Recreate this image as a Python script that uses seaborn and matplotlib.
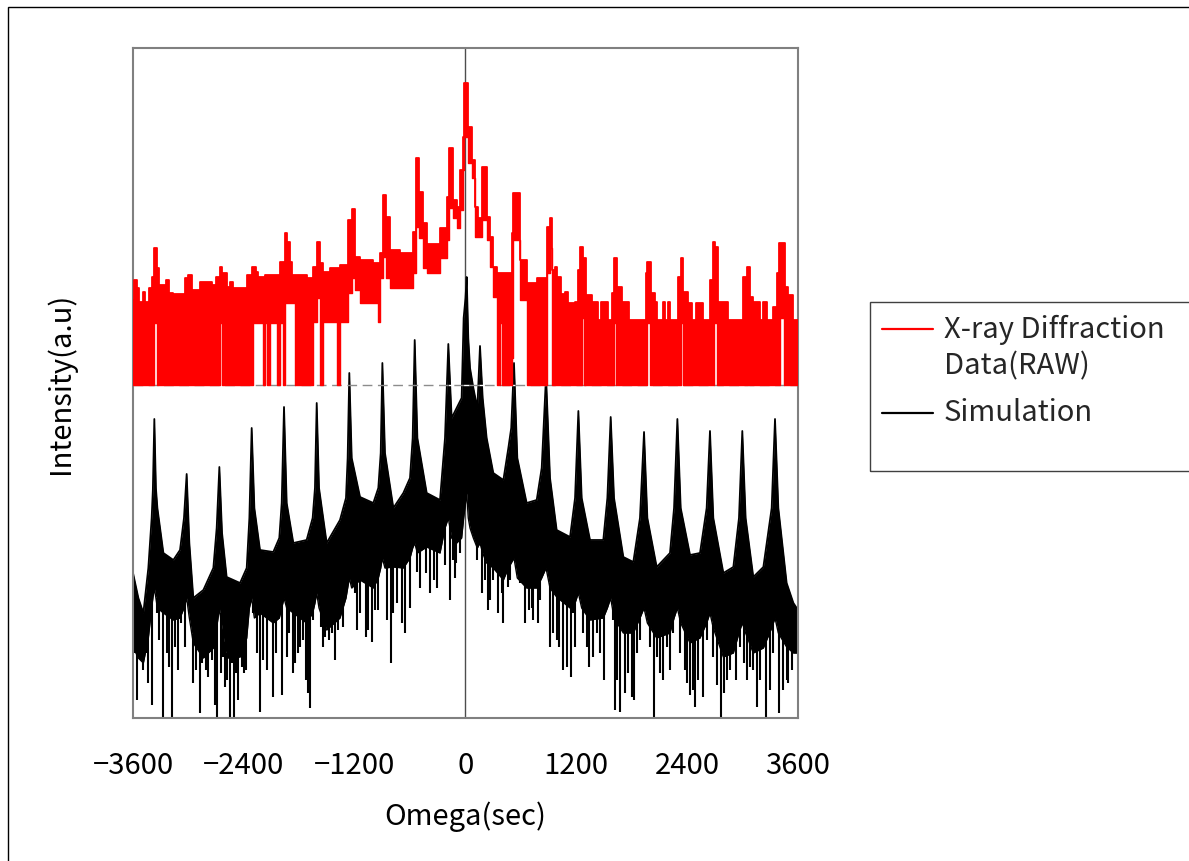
import numpy as np
import pandas as pd
import matplotlib
matplotlib.use("Agg")
import matplotlib.pyplot as plt
import seaborn as sns
from matplotlib.lines import Line2D
from matplotlib.patches import Rectangle

# ---------------- data (intensity in a.u.) ----------------
x_ticks = [-3600, -2400, -1200, 0, 1200, 2400, 3600]
x_tick_labels = ["\u22123600", "\u22122400", "\u22121200", "0", "1200", "2400", "3600"]
series_labels = ["X-ray Diffraction\nData(RAW)", "Simulation"]
x_title = "Omega(sec)"
y_title = "Intensity(a.u)"
baseline = 333

# X-ray diffraction raw data (stepped): segment start, upper level, lower level
red_omega = [-3600, -3589, -3553, -3531, -3495, -3470, -3423, -3397, -3372, -3343,
             -3336, -3314, -3242, -3206, -3163, -3037, -3000, -2964, -2874, -2748,
             -2701, -2658, -2636, -2585, -2549, -2513, -2369, -2315, -2304, -2268,
             -2243, -2188, -2170, -2145, -2116, -2044, -2008, -1979, -1954, -1929,
             -1900, -1882, -1846, -1719, -1654, -1611, -1575, -1539, -1467, -1394,
             -1358, -1269, -1225, -1196, -1142, -998, -944, -926, -898, -860,
             -817, -709, -565, -535, -500, -457, -421, -276, -204, -175,
             -140, -96, -60, -23, -16, 31, 67, 103, 139, 175,
             229, 265, 301, 337, 374, 395, 500, 518, 590, 670,
             770, 879, 915, 933, 969, 987, 1034, 1077, 1113, 1186,
             1214, 1240, 1258, 1276, 1283, 1301, 1366, 1438, 1467, 1539,
             1590, 1611, 1630, 1637, 1691, 1770, 1951, 1970, 1998, 2008,
             2052, 2070, 2142, 2160, 2196, 2214, 2304, 2330, 2351, 2358,
             2405, 2449, 2492, 2568, 2647, 2676, 2694, 2701, 2719, 2737,
             2846, 3008, 3044, 3055, 3073, 3080, 3116, 3189, 3225, 3261,
             3333, 3369, 3394, 3401, 3452, 3459, 3495, 3549, 3600]
red_upper = [418, 438, 430, 416, 426, 416, 430, 441, 470, 450,
             450, 433, 438, 425, 424, 440, 443, 428, 436, 433,
             441, 451, 445, 431, 436, 430, 443, 451, 451, 446,
             441, 441, 443, 443, 443, 443, 456, 456, 485, 476,
             456, 443, 443, 440, 451, 476, 455, 446, 450, 450,
             453, 498, 509, 461, 458, 455, 455, 465, 523, 501,
             468, 465, 486, 560, 526, 495, 474, 490, 521, 570,
             518, 511, 548, 581, 635, 591, 558, 511, 500, 551,
             501, 481, 451, 445, 445, 445, 485, 525, 458, 435,
             440, 491, 500, 448, 451, 441, 424, 426, 415, 416,
             448, 471, 471, 460, 460, 423, 416, 398, 416, 398,
             425, 460, 460, 431, 416, 398, 445, 456, 456, 425,
             416, 398, 416, 398, 416, 398, 441, 460, 460, 426,
             415, 398, 415, 398, 438, 476, 476, 471, 471, 416,
             398, 441, 451, 451, 451, 421, 416, 398, 416, 398,
             411, 445, 475, 475, 475, 431, 423, 398, 398]
red_lower = [333, 333, 333, 333, 333, 333, 333, 333, 395, 395,
             333, 333, 333, 333, 333, 333, 333, 333, 333, 333,
             333, 395, 333, 333, 333, 333, 333, 333, 395, 395,
             395, 333, 395, 333, 395, 333, 395, 333, 415, 415,
             415, 415, 333, 333, 396, 420, 333, 396, 396, 333,
             396, 425, 440, 428, 415, 415, 396, 440, 461, 440,
             430, 430, 445, 491, 480, 450, 445, 460, 478, 510,
             500, 490, 508, 548, 581, 555, 540, 481, 481, 498,
             478, 451, 421, 333, 395, 333, 360, 478, 418, 333,
             333, 445, 470, 333, 333, 333, 333, 333, 333, 333,
             333, 333, 400, 400, 333, 333, 333, 333, 333, 333,
             333, 395, 333, 333, 333, 333, 333, 395, 333, 333,
             333, 333, 333, 333, 333, 333, 333, 395, 333, 333,
             333, 333, 333, 333, 333, 333, 395, 395, 333, 333,
             333, 333, 333, 395, 333, 333, 333, 333, 333, 333,
             333, 333, 333, 400, 333, 333, 333, 333, 333]

# Simulation: omega, upper edge and lower edge of the dense band
sim_omega = [-3600, -3542, -3488, -3434, -3398, -3385, -3369, -3352, -3336, -3271,
             -3163, -3091, -3048, -3019, -2990, -2947, -2838, -2730, -2694, -2665,
             -2636, -2586, -2441, -2369, -2340, -2315, -2286, -2225, -2081, -2016,
             -1990, -1965, -1936, -1864, -1720, -1655, -1630, -1611, -1586, -1503,
             -1359, -1294, -1276, -1258, -1232, -1142, -998, -944, -918, -900,
             -872, -781, -673, -601, -572, -550, -521, -420, -276, -222,
             -186, -150, -96, -42, -20, 0, 13, 30, 49, 85, 128, 157,
             186, 229, 301, 410, 464, 495, 525, 561, 662, 771,
             825, 872, 915, 987, 1132, 1186, 1222, 1258, 1348, 1492,
             1536, 1572, 1608, 1709, 1817, 1889, 1933, 1969, 2070, 2214,
             2258, 2294, 2330, 2431, 2539, 2611, 2647, 2683, 2792, 2900,
             2961, 2997, 3033, 3116, 3225, 3315, 3351, 3387, 3477, 3550,
             3600]
sim_upper = [145, 120, 105, 150, 200, 228, 299, 230, 210, 165,
             158, 168, 200, 244, 175, 120, 128, 150, 190, 251,
             185, 141, 135, 150, 200, 290, 210, 168, 166, 180,
             215, 311, 215, 175, 178, 200, 230, 315, 230, 175,
             198, 220, 260, 345, 260, 221, 215, 230, 265, 355,
             265, 210, 225, 240, 280, 378, 280, 225, 218, 280,
             374, 300, 310, 320, 400, 420, 441, 380, 350, 330, 310, 372,
             320, 280, 245, 238, 270, 290, 355, 260, 215, 218,
             250, 342, 240, 188, 181, 220, 307, 220, 178, 178,
             220, 301, 220, 161, 156, 200, 286, 200, 151, 165,
             210, 299, 210, 163, 165, 210, 287, 200, 145, 151,
             200, 287, 200, 141, 151, 210, 299, 210, 135, 115,
             108]
sim_lower = [71, 60, 55, 80, 110, 120, 130, 120, 110, 105,
             98, 100, 110, 120, 100, 75, 60, 70, 90, 110,
             90, 60, 61, 80, 110, 120, 100, 105, 95, 100,
             110, 120, 110, 105, 95, 105, 115, 125, 110, 88,
             100, 120, 130, 140, 130, 138, 130, 140, 150, 160,
             150, 151, 150, 160, 170, 175, 165, 171, 165, 190,
             200, 180, 175, 180, 200, 215, 225, 200, 190, 180, 170, 175,
             165, 155, 150, 138, 150, 155, 160, 140, 130, 130,
             140, 150, 130, 121, 110, 115, 125, 110, 98, 100,
             110, 120, 100, 85, 85, 100, 110, 95, 80, 85,
             100, 110, 95, 75, 80, 95, 105, 90, 61, 65,
             85, 95, 85, 65, 70, 90, 100, 85, 71, 65,
             65]

# Simulation: deep downward excursions (omega, lowest value)
dip_omega = [-3560, -3488, -3434, -3391, -3271, -3207, -3181, -3109,
             -2954, -2875, -2810, -2712, -2694, -2604, -2550, -2506, -2460, -2377,
             -2225, -2153, -2088, -1990, -1864, -1792, -1709, -1684,
             -1546, -1474, -1413, -1171, -1081, -1016, -944, -807, -738, -655,
             -529, -428, -384, -341, -222, -168, -103, -60,
             175, 247, 301, 356, 410, 464, 644, 691, 734, 781,
             915, 987, 1059, 1142, 1186, 1276, 1341, 1384, 1500,
             1619, 1673, 1727, 1828, 1889, 2044, 2106, 2214,
             2395, 2431, 2485, 2575, 2720, 2766, 2828, 2929,
             3015, 3080, 3152, 3254, 3297, 3398, 3441, 3495, 3568]
dip_low = [18, 48, 35, 13, 0, 51, 0, 48,
           35, 5, 48, 13, 0, 31, 0, 0, 18, 48,
           6, 48, 21, 23, 45, 71, 25, 10,
           71, 78, 58, 88, 81, 76, 108, 55, 115, 85,
           146, 145, 125, 138, 153, 118, 155, 165,
           125, 108, 138, 105, 95, 131, 95, 108, 98, 95,
           71, 78, 48, 41, 71, 85, 51, 61, 38,
           8, 6, 25, 18, 78, 0, 45, 48,
           35, 23, 11, 21, 33, 0, 38, 38,
           55, 51, 11, 0, 28, 5, 28, 35, 71]

# Simulation: shallower downward excursions (omega, lowest value)
dip2_omega = [-3578, -3517, -3459, -3344, -3315, -3235, -3145, -3084, -3037,
              -2918, -2856, -2784, -2748, -2651, -2622, -2579, -2532, -2485,
              -2423, -2398, -2297, -2254, -2189, -2052, -1936, -1907, -1846,
              -1810, -1763, -1727, -1648, -1565, -1521, -1449, -1377, -1323,
              -1196, -1142, -1052, -980, -853, -781, -691, -601, -493, -312,
              -114, -132, 121, 211, 265, 392, 482, 590, 716, 807,
              951, 1016, 1095, 1168, 1312, 1420, 1456, 1601, 1637, 1763,
              1799, 1853, 1998, 2070, 2142, 2178, 2250, 2322, 2377, 2460,
              2521, 2611, 2683, 2802, 2864, 2972, 3044, 3116, 3189, 3333,
              3477, 3532, 3586]
dip2_low = [65, 61, 65, 105, 78, 65, 71, 95, 71,
            48, 55, 41, 58, 45, 61, 38, 55, 45,
            51, 45, 105, 65, 58, 65, 61, 85, 55,
            65, 78, 38, 98, 91, 81, 85, 88, 91,
            125, 105, 88, 108, 98, 105, 95, 110, 130, 130,
            140, 158, 158, 138, 118, 125, 138, 135, 110, 118,
            85, 71, 51, 105, 71, 85, 65, 98, 38, 45,
            21, 65, 71, 61, 38, 71, 85, 65, 48, 28,
            38, 78, 61, 25, 48, 71, 38, 48, 38, 65,
            38, 48, 65]

# ---------------- figure ----------------
sns.set_theme(style="white")
plt.rcParams['font.family'] = ['Noto Sans CJK JP', 'DejaVu Sans']
plt.rcParams['axes.unicode_minus'] = True

W, H = 1189, 861
fig = plt.figure(figsize=(W / 100, H / 100), dpi=100)
fig.patch.set_facecolor("white")
ax = fig.add_axes([133 / W, 1 - 718 / H, (798 - 133) / W, (718 - 48) / H])
ax.set_facecolor("white")

red_df = pd.DataFrame({"omega": red_omega, "upper": red_upper, "lower": red_lower})
sim_df = pd.DataFrame({"omega": sim_omega, "upper": sim_upper, "lower": sim_lower})
dip_df = pd.DataFrame({"omega": dip_omega + dip2_omega, "low": dip_low + dip2_low})

# simulation band
ax.fill_between(sim_df["omega"], sim_df["lower"], sim_df["upper"],
                color="black", lw=0, zorder=2)
sns.lineplot(data=sim_df, x="omega", y="upper", color="black", lw=1.3,
             estimator=None, sort=False, ax=ax, zorder=2)
sns.lineplot(data=sim_df, x="omega", y="lower", color="black", lw=1.0,
             estimator=None, sort=False, ax=ax, zorder=2)
core = np.interp(dip_df["omega"], sim_df["omega"], sim_df["lower"])
ax.vlines(dip_df["omega"], dip_df["low"], core + 5, color="black", lw=1.5, zorder=2)

# baseline (dashed, gray with white gaps)
ax.axhline(baseline, color="#8c8c8c", lw=1.0, ls=(0, (7, 4)), gapcolor="white", zorder=3)

# raw data (stepped)
ax.fill_between(red_df["omega"], red_df["lower"], red_df["upper"], step="post",
                color="#ff0000", lw=0, zorder=4)
sns.lineplot(data=red_df, x="omega", y="upper", color="#ff0000", lw=1.3,
             drawstyle="steps-post", estimator=None, sort=False, ax=ax, zorder=4)
sns.lineplot(data=red_df, x="omega", y="lower", color="#ff0000", lw=1.0,
             drawstyle="steps-post", estimator=None, sort=False, ax=ax, zorder=4)

# vertical axis at zero
ax.axvline(0, color="#4d4d4d", lw=1.0, zorder=1)

ax.set_xlim(-3600, 3600)
ax.set_ylim(0, 670)
ax.set_xticks(x_ticks)
ax.set_xticklabels(x_tick_labels)
ax.set_yticks([])
ax.tick_params(axis="x", direction="in", length=4, width=1, color="#808080",
               labelsize=21, pad=24, labelcolor="black")
for s in ax.spines.values():
    s.set_visible(True)
    s.set_color("#808080")
    s.set_linewidth(1.5)

ax.set_xlabel(x_title, fontsize=21, color="black")
ax.set_ylabel(y_title, fontsize=21, color="black")
ax.xaxis.set_label_coords(0.5, -0.125)
ax.yaxis.set_label_coords(-0.086, 0.5)

# legend (drawn in figure coordinates)
fig.patches.append(Rectangle((870 / W, 1 - 471 / H), 0.5, (471 - 302) / H,
                             transform=fig.transFigure, fill=False,
                             ec="#404040", lw=1.0, zorder=5))
fig.lines.append(Line2D([882 / W, 933 / W], [1 - 329 / H] * 2, color="#ff0000",
                        lw=1.6, transform=fig.transFigure))
fig.lines.append(Line2D([882 / W, 933 / W], [1 - 413 / H] * 2, color="black",
                        lw=1.6, transform=fig.transFigure))
fig.text(944 / W, 1 - 348 / H, series_labels[0], fontsize=21, va="center",
         ha="left", linespacing=1.25)
fig.text(944 / W, 1 - 413 / H, series_labels[1], fontsize=21, va="center", ha="left")

# outer border of the picture
fig.patches.append(Rectangle((8 / W, -0.1), 1.2, 1 - 7 / H + 0.1,
                             transform=fig.transFigure, fill=False,
                             ec="black", lw=1.0))

fig.savefig("out.png", dpi=100, facecolor="white")
